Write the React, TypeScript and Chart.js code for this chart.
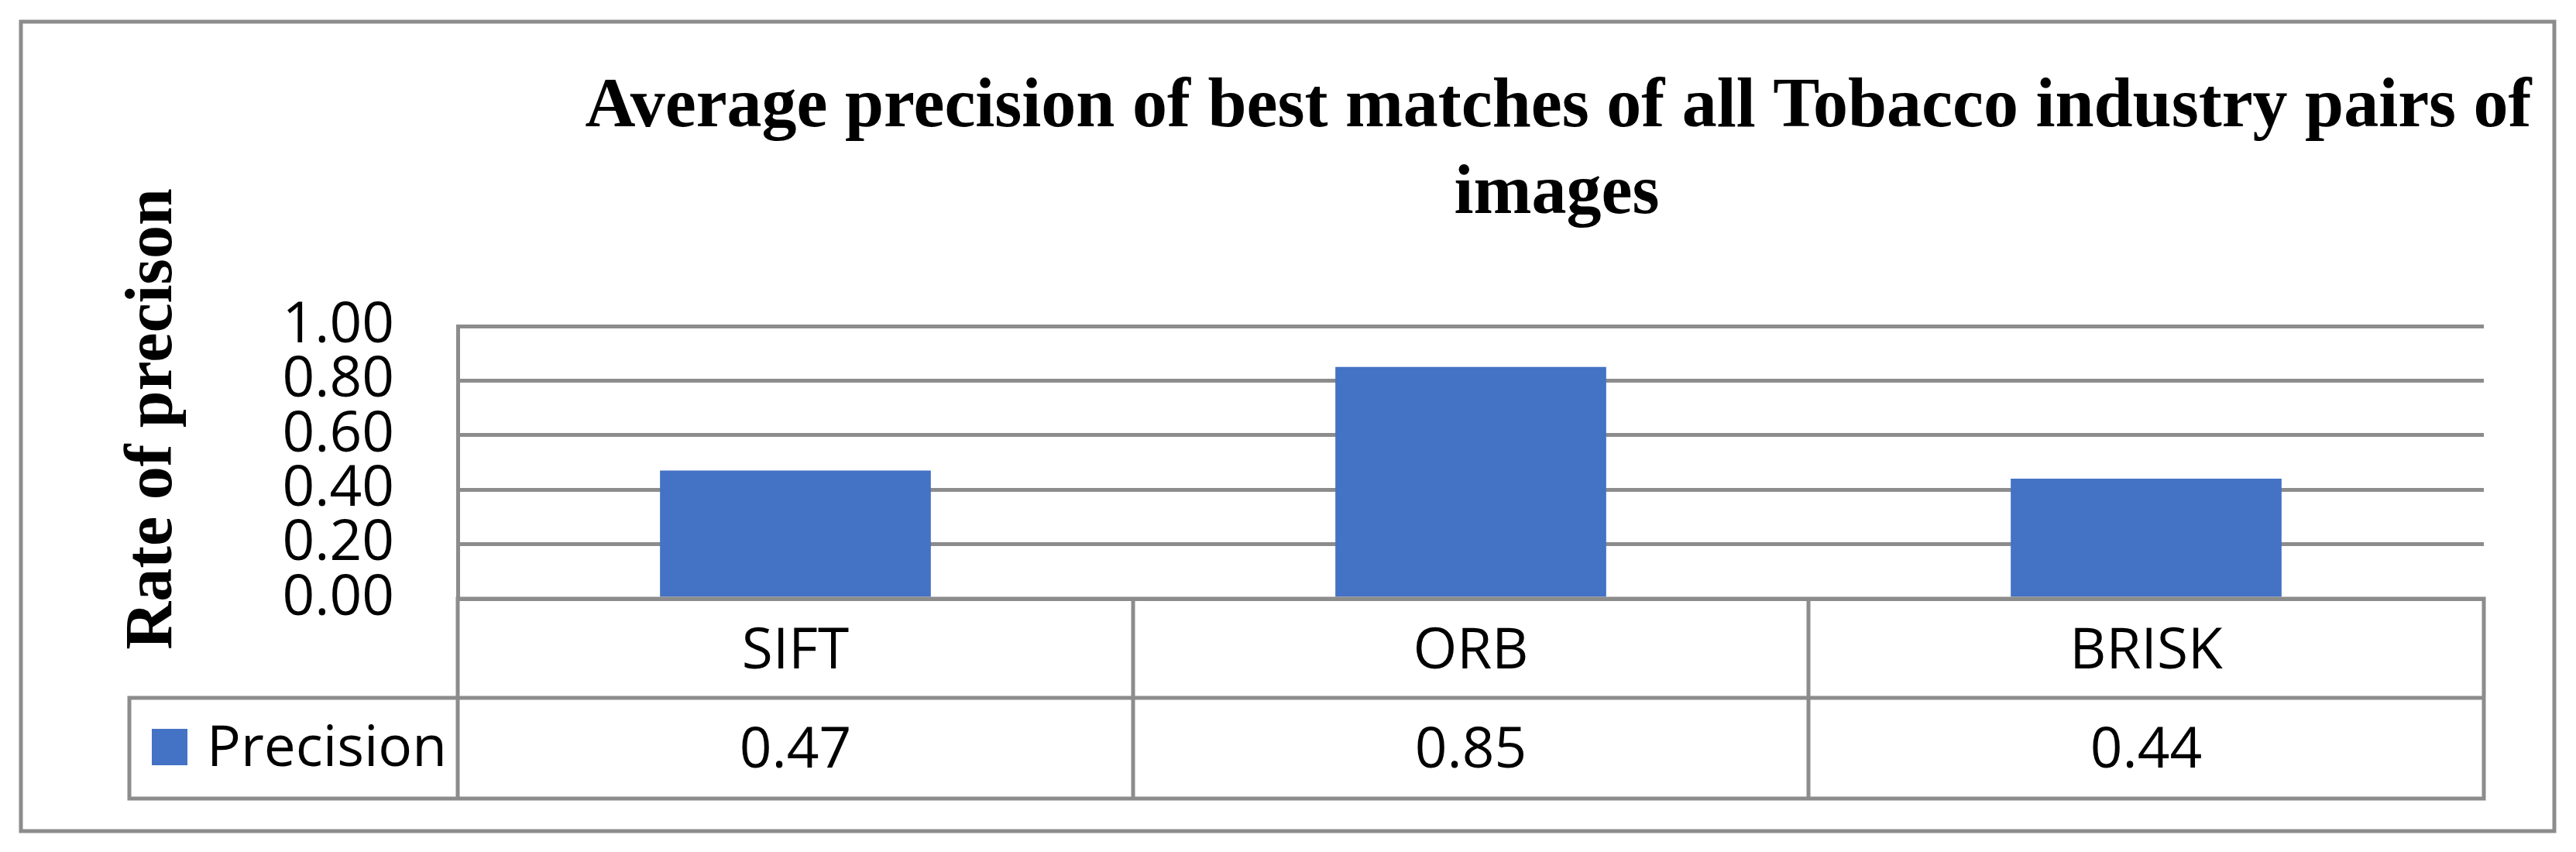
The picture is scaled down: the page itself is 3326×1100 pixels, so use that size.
import React, { useEffect, useRef } from "react";
import { Chart, registerables } from "chart.js";

Chart.register(...registerables);

// ---- data ----
const categories = ["SIFT", "ORB", "BRISK"];
const precisionValues = [0.47, 0.85, 0.44];
const seriesName = "Precision";
const yTickValues = [0, 0.2, 0.4, 0.6, 0.8, 1.0];
const chartTitleLines = [
  "Average precision of best matches of all Tobacco industry pairs of",
  "images",
];
const yAxisTitle = "Rate of precison";

// ---- style ----
const W = 3326;
const H = 1100;
const LINE = "#8c8c8c";
const LW = 5;
const BAR = "#4472C4";
const SANS = '"Open Sans", sans-serif';
const SERIF = '"Liberation Serif", serif';

const decorPlugin = {
  id: "decor",
  afterDraw(chart: any) {
    const { ctx } = chart;
    ctx.save();
    // outer frame
    ctx.strokeStyle = LINE;
    ctx.lineWidth = LW;
    ctx.strokeRect(27, 28, 3271, 1045);
    // chart title
    ctx.fillStyle = "#000";
    ctx.font = `bold 90px ${SERIF}`;
    ctx.textAlign = "center";
    ctx.textBaseline = "alphabetic";
    ctx.fillText(chartTitleLines[0], 2012, 163);
    ctx.fillText(chartTitleLines[1], 2010, 275);
    // y axis title
    ctx.save();
    ctx.translate(221, 541);
    ctx.rotate(-Math.PI / 2);
    ctx.font = `bold 86px ${SERIF}`;
    ctx.textAlign = "center";
    ctx.fillText(yAxisTitle, 0, 0);
    ctx.restore();
    ctx.restore();
  },
};

const tablePlugin = {
  id: "dataTable",
  afterDatasetsDraw(chart: any) {
    const { ctx, chartArea, scales } = chart;
    const xs = scales.x;
    const n = categories.length;
    const colW = xs.getPixelForValue(1) - xs.getPixelForValue(0);
    const left = xs.getPixelForValue(0) - colW / 2;
    const right = left + colW * n;
    const top = chartArea.bottom;
    const row1 = top + 128;
    const row2 = top + 258;
    const legendLeft = 167;

    ctx.save();
    ctx.strokeStyle = LINE;
    ctx.lineWidth = LW;
    ctx.lineCap = "square";
    ctx.beginPath();
    ctx.moveTo(left, top);
    ctx.lineTo(right, top);
    ctx.moveTo(legendLeft, row1);
    ctx.lineTo(right, row1);
    ctx.moveTo(legendLeft, row2);
    ctx.lineTo(right, row2);
    ctx.moveTo(legendLeft, row1);
    ctx.lineTo(legendLeft, row2);
    for (let i = 0; i <= n; i++) {
      const xx = left + i * colW;
      ctx.moveTo(xx, top);
      ctx.lineTo(xx, row2);
    }
    ctx.stroke();

    ctx.fillStyle = "#000";
    ctx.font = `73px ${SANS}`;
    ctx.textAlign = "center";
    ctx.textBaseline = "alphabetic";
    categories.forEach((c, i) => {
      const cx = xs.getPixelForValue(i);
      ctx.fillText(c, cx, top + 90);
      ctx.fillText(precisionValues[i].toFixed(2), cx, row1 + 90);
    });

    // legend key
    ctx.fillStyle = BAR;
    ctx.fillRect(196, row1 + 40, 46, 47);
    ctx.fillStyle = "#000";
    ctx.textAlign = "left";
    ctx.fillText(seriesName, 267, row1 + 88);
    ctx.restore();
  },
};

export default function App() {
  const ref = useRef<HTMLCanvasElement | null>(null);

  useEffect(() => {
    const canvas = ref.current;
    if (!canvas) return;
    const chart = new Chart(canvas, {
      type: "bar",
      data: {
        labels: categories,
        datasets: [
          {
            label: seriesName,
            data: precisionValues,
            backgroundColor: BAR,
            borderWidth: 0,
            barPercentage: 0.401,
            categoryPercentage: 1,
          },
        ],
      },
      options: {
        responsive: false,
        animation: false,
        devicePixelRatio: 1,
        layout: { padding: { top: 421, bottom: H - 773, left: 0, right: W - 3207 } },
        plugins: {
          legend: { display: false },
          tooltip: { enabled: false },
          title: { display: false },
        },
        scales: {
          x: { display: false, offset: true },
          y: {
            min: 0,
            max: 1,
            afterBuildTicks: (s: any) => {
              s.ticks = yTickValues.map((v) => ({ value: v }));
            },
            afterFit: (s: any) => {
              s.width = 591;
            },
            grid: { color: LINE, lineWidth: LW, drawTicks: false },
            border: { display: true, color: LINE, width: LW },
            ticks: {
              color: "#000",
              padding: 82,
              autoSkip: false,
              font: { family: SANS, size: 73 },
              callback: (v: any) => Number(v).toFixed(2),
            },
          },
        },
      },
      plugins: [tablePlugin, decorPlugin],
    });
    const fontsReady = (document as any).fonts;
    if (fontsReady && fontsReady.load) {
      Promise.all([
        fontsReady.load(`73px ${SANS}`),
        fontsReady.load(`bold 86px ${SERIF}`),
      ]).then(() => {
        try {
          chart.update();
        } catch (e) {}
      });
    }
    return () => chart.destroy();
  }, []);

  return (
    <div style={{ position: "absolute", left: 0, top: 0, width: W, height: H, background: "#fff" }}>
      <canvas ref={ref} width={W} height={H} style={{ display: "block", width: W, height: H }} />
    </div>
  );
}
